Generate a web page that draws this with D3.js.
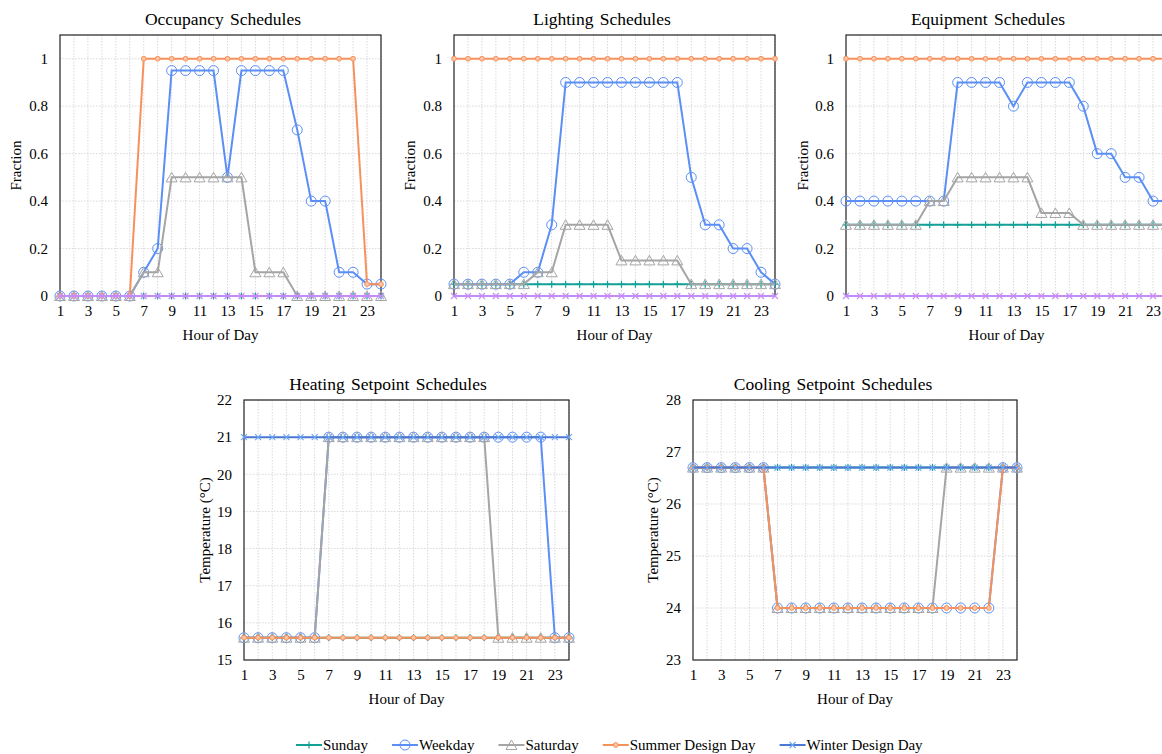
<!DOCTYPE html>
<html>
<head>
<meta charset="utf-8">
<script src="https://cdn.jsdelivr.net/npm/d3@7"></script>
<style>
	body { margin: 0; background: #fff; }
	svg { font-family: "Liberation Serif", "Times New Roman", serif; }
	.grid line { stroke: #d9d9d9; stroke-dasharray: 1.5,1.5; }
	.tick text { font-size: 15px; fill: #000; }
</style>
</head>
<body>
<svg id="chart" width="1162" height="754"></svg>
<script>
/* Five schedule panels: occupancy, lighting, equipment, heating and cooling setpoints */

var serif = "'Liberation Serif', 'Times New Roman', serif";

var hours = [1, 2, 3, 4, 5, 6, 7, 8, 9, 10, 11, 12, 13, 14, 15, 16, 17, 18, 19, 20, 21, 22, 23, 24];
var xTickLabels = [1, 3, 5, 7, 9, 11, 13, 15, 17, 19, 21, 23];
var seriesNames = ["Sunday", "Weekday", "Saturday", "Summer Design Day", "Winter Design Day"];

// Occupancy (fraction)
var occSunday   = [0,0,0,0,0,0,0,0,0,0,0,0,0,0,0,0,0,0,0,0,0,0,0,0];
var occWeekday  = [0,0,0,0,0,0,0.1,0.2,0.95,0.95,0.95,0.95,0.5,0.95,0.95,0.95,0.95,0.7,0.4,0.4,0.1,0.1,0.05,0.05];
var occSaturday = [0,0,0,0,0,0,0.1,0.1,0.5,0.5,0.5,0.5,0.5,0.5,0.1,0.1,0.1,0,0,0,0,0,0,0];
var occSummer   = [0,0,0,0,0,0,1,1,1,1,1,1,1,1,1,1,1,1,1,1,1,1,0.05,0.05];
var occWinter   = [0,0,0,0,0,0,0,0,0,0,0,0,0,0,0,0,0,0,0,0,0,0,0,0];

// Lighting (fraction)
var ltSunday   = [0.05,0.05,0.05,0.05,0.05,0.05,0.05,0.05,0.05,0.05,0.05,0.05,0.05,0.05,0.05,0.05,0.05,0.05,0.05,0.05,0.05,0.05,0.05,0.05];
var ltWeekday  = [0.05,0.05,0.05,0.05,0.05,0.1,0.1,0.3,0.9,0.9,0.9,0.9,0.9,0.9,0.9,0.9,0.9,0.5,0.3,0.3,0.2,0.2,0.1,0.05];
var ltSaturday = [0.05,0.05,0.05,0.05,0.05,0.05,0.1,0.1,0.3,0.3,0.3,0.3,0.15,0.15,0.15,0.15,0.15,0.05,0.05,0.05,0.05,0.05,0.05,0.05];
var ltSummer   = [1,1,1,1,1,1,1,1,1,1,1,1,1,1,1,1,1,1,1,1,1,1,1,1];
var ltWinter   = [0,0,0,0,0,0,0,0,0,0,0,0,0,0,0,0,0,0,0,0,0,0,0,0];

// Equipment (fraction)
var eqSunday   = [0.3,0.3,0.3,0.3,0.3,0.3,0.3,0.3,0.3,0.3,0.3,0.3,0.3,0.3,0.3,0.3,0.3,0.3,0.3,0.3,0.3,0.3,0.3,0.3];
var eqWeekday  = [0.4,0.4,0.4,0.4,0.4,0.4,0.4,0.4,0.9,0.9,0.9,0.9,0.8,0.9,0.9,0.9,0.9,0.8,0.6,0.6,0.5,0.5,0.4,0.4];
var eqSaturday = [0.3,0.3,0.3,0.3,0.3,0.3,0.4,0.4,0.5,0.5,0.5,0.5,0.5,0.5,0.35,0.35,0.35,0.3,0.3,0.3,0.3,0.3,0.3,0.3];
var eqSummer   = [1,1,1,1,1,1,1,1,1,1,1,1,1,1,1,1,1,1,1,1,1,1,1,1];
var eqWinter   = [0,0,0,0,0,0,0,0,0,0,0,0,0,0,0,0,0,0,0,0,0,0,0,0];

// Heating setpoint (°C)
var htSunday   = [15.6,15.6,15.6,15.6,15.6,15.6,15.6,15.6,15.6,15.6,15.6,15.6,15.6,15.6,15.6,15.6,15.6,15.6,15.6,15.6,15.6,15.6,15.6,15.6];
var htWeekday  = [15.6,15.6,15.6,15.6,15.6,15.6,21,21,21,21,21,21,21,21,21,21,21,21,21,21,21,21,15.6,15.6];
var htSaturday = [15.6,15.6,15.6,15.6,15.6,15.6,21,21,21,21,21,21,21,21,21,21,21,21,15.6,15.6,15.6,15.6,15.6,15.6];
var htSummer   = [15.6,15.6,15.6,15.6,15.6,15.6,15.6,15.6,15.6,15.6,15.6,15.6,15.6,15.6,15.6,15.6,15.6,15.6,15.6,15.6,15.6,15.6,15.6,15.6];
var htWinter   = [21,21,21,21,21,21,21,21,21,21,21,21,21,21,21,21,21,21,21,21,21,21,21,21];

// Cooling setpoint (°C)
var clSunday   = [26.7,26.7,26.7,26.7,26.7,26.7,26.7,26.7,26.7,26.7,26.7,26.7,26.7,26.7,26.7,26.7,26.7,26.7,26.7,26.7,26.7,26.7,26.7,26.7];
var clWeekday  = [26.7,26.7,26.7,26.7,26.7,26.7,24,24,24,24,24,24,24,24,24,24,24,24,24,24,24,24,26.7,26.7];
var clSaturday = [26.7,26.7,26.7,26.7,26.7,26.7,24,24,24,24,24,24,24,24,24,24,24,24,26.7,26.7,26.7,26.7,26.7,26.7];
var clSummer   = [26.7,26.7,26.7,26.7,26.7,26.7,24,24,24,24,24,24,24,24,24,24,24,24,24,24,24,24,26.7,26.7];
var clWinter   = [26.7,26.7,26.7,26.7,26.7,26.7,26.7,26.7,26.7,26.7,26.7,26.7,26.7,26.7,26.7,26.7,26.7,26.7,26.7,26.7,26.7,26.7,26.7,26.7];

var fracTicks = [0, 0.2, 0.4, 0.6, 0.8, 1];
var heatTicks = [15, 16, 17, 18, 19, 20, 21, 22];
var coolTicks = [23, 24, 25, 26, 27, 28];

// series styles (winter is lilac on fraction panels, blue on setpoint panels)
var styles = {
	"Sunday":            {color: "#12a196", marker: "plus"},
	"Weekday":           {color: "#5b8ff6", marker: "circle"},
	"Saturday":          {color: "#a5a5a5", marker: "triangle"},
	"Summer Design Day": {color: "#f7915c", marker: "dot"},
	"Winter Design Day": {color: "#4a78d4", marker: "cross"}
};
var winterLilac = "#c48cf8";

var panels = [
	{title: "Occupancy Schedules", ylabel: "Fraction", left: 60, top: 35, width: 321, height: 261,
	 domain: [0, 1.1], ticks: fracTicks, titleX: 223, ylabelX: 16, lilac: true,
	 series: [occSunday, occWeekday, occSaturday, occSummer, occWinter]},
	{title: "Lighting Schedules", ylabel: "Fraction", left: 454, top: 35, width: 321, height: 261,
	 domain: [0, 1.1], ticks: fracTicks, titleX: 602, ylabelX: 410, lilac: true,
	 series: [ltSunday, ltWeekday, ltSaturday, ltSummer, ltWinter]},
	{title: "Equipment Schedules", ylabel: "Fraction", left: 846, top: 35, width: 321, height: 261,
	 domain: [0, 1.1], ticks: fracTicks, titleX: 988, ylabelX: 803, lilac: true,
	 series: [eqSunday, eqWeekday, eqSaturday, eqSummer, eqWinter]},
	{title: "Heating Setpoint Schedules", ylabel: "Temperature (°C)", left: 244, top: 400, width: 325, height: 260,
	 domain: [15, 22], ticks: heatTicks, titleX: 388, ylabelX: 205, lilac: false,
	 series: [htSunday, htWeekday, htSaturday, htSummer, htWinter]},
	{title: "Cooling Setpoint Schedules", ylabel: "Temperature (°C)", left: 693, top: 400, width: 324, height: 260,
	 domain: [23, 28], ticks: coolTicks, titleX: 833, ylabelX: 653, lilac: false,
	 series: [clSunday, clWeekday, clSaturday, clSummer, clWinter]}
];

var svg = d3.select("#chart");

// Draw one marker symbol centred on 0,0
function drawMarker(g, kind, color) {
	if (kind == "circle") {
		g.append("circle").attr("r", 5).attr("fill", "none")
			.attr("stroke", color).attr("stroke-width", 1);
	} else if (kind == "triangle") {
		g.append("path").attr("d", "M0,-5L5.5,4.5L-5.5,4.5Z").attr("fill", "none")
			.attr("stroke", color).attr("stroke-width", 1);
	} else if (kind == "dot") {
		g.append("circle").attr("r", 2.4).attr("fill", "#fbc3a4")
			.attr("stroke", color).attr("stroke-width", 1);
	} else if (kind == "plus") {
		g.append("path").attr("d", "M-3.5,0H3.5M0,-3.5V3.5")
			.attr("stroke", color).attr("stroke-width", 1.2);
	} else if (kind == "cross") {
		g.append("path").attr("d", "M-3,-3L3,3M-3,3L3,-3")
			.attr("stroke", color).attr("stroke-width", 1.1);
	}
}

function drawPanel(p) {
	var x = d3.scaleLinear().domain([1, 24]).range([0, p.width]);
	var y = d3.scaleLinear().domain(p.domain).range([p.height, 0]);

	var g = svg.append("g")
		.attr("transform", "translate(" + p.left + "," + p.top + ")");

	// dotted grid
	g.append("g").attr("class", "grid")
		.selectAll("line.v").data(hours.slice(1))
	  .enter().append("line")
		.attr("x1", function(d) { return x(d); }).attr("x2", function(d) { return x(d); })
		.attr("y1", 0).attr("y2", p.height);
	g.append("g").attr("class", "grid")
		.selectAll("line.h").data(p.ticks.slice(1))
	  .enter().append("line")
		.attr("x1", 0).attr("x2", p.width)
		.attr("y1", function(d) { return y(d); }).attr("y2", function(d) { return y(d); });

	// frame
	g.append("rect").attr("width", p.width).attr("height", p.height)
		.attr("fill", "none").attr("stroke", "#222").attr("stroke-width", 1.2);

	var xAxis = d3.axisBottom(x).tickValues(xTickLabels).tickSize(0).tickPadding(9)
		.tickFormat(d3.format("d"));
	var yAxis = d3.axisLeft(y).tickValues(p.ticks).tickSize(0).tickPadding(12)
		.tickFormat(function(d) { return String(d); });

	g.append("g").attr("transform", "translate(0," + p.height + ")").call(xAxis)
		.attr("font-family", serif)
		.call(function(a) { a.select(".domain").remove(); });
	g.append("g").call(yAxis)
		.attr("font-family", serif)
		.call(function(a) { a.select(".domain").remove(); });

	var line = d3.line()
		.x(function(d, i) { return x(hours[i]); })
		.y(function(d) { return y(d); });

	p.series.forEach(function(values, si) {
		var name = seriesNames[si];
		var color = styles[name].color;
		if (name == "Winter Design Day" && p.lilac) color = winterLilac;

		g.append("path").datum(values)
			.attr("fill", "none").attr("stroke", color).attr("stroke-width", 2)
			.attr("d", line);

		g.selectAll(".m" + si).data(values)
		  .enter().append("g")
			.attr("transform", function(d, i) { return "translate(" + x(hours[i]) + "," + y(d) + ")"; })
			.each(function() {
				var mc = styles[name].marker == "cross" && !p.lilac ? "#6aa4f5" : color;
				drawMarker(d3.select(this), styles[name].marker, mc);
			});
	});

	// titles
	svg.append("text")
		.attr("x", p.titleX).attr("y", p.top - 10)
		.attr("text-anchor", "middle").attr("font-size", "17.5px")
		.style("word-spacing", "2px")
		.text(p.title);

	svg.append("text")
		.attr("x", p.left + p.width / 2).attr("y", p.top + p.height + 44)
		.attr("text-anchor", "middle").attr("font-size", "15px")
		.text("Hour of Day");

	svg.append("text")
		.attr("transform", "translate(" + (p.ylabelX + 5) + "," + (p.top + p.height / 2) + ") rotate(-90)")
		.attr("text-anchor", "middle").attr("font-size", "15px")
		.text(p.ylabel);
}

panels.forEach(drawPanel);

// Legend along the bottom
var legend = svg.append("g").attr("font-size", "15px").attr("font-family", serif);
var lx = 296, ly = 745;
seriesNames.forEach(function(name) {
	var item = legend.append("g").attr("transform", "translate(" + lx + "," + ly + ")");
	item.append("line").attr("x1", 0).attr("x2", 26).attr("y1", 0).attr("y2", 0)
		.attr("stroke", styles[name].color).attr("stroke-width", 2);
	var m = item.append("g").attr("transform", "translate(13,0)");
	drawMarker(m, styles[name].marker, name == "Winter Design Day" ? "#6aa4f5" : styles[name].color);
	var t = item.append("text").attr("x", 27).attr("y", 5).text(name);
	lx += 27 + t.node().getComputedTextLength() + 24;
});
</script>
</body>
</html>
